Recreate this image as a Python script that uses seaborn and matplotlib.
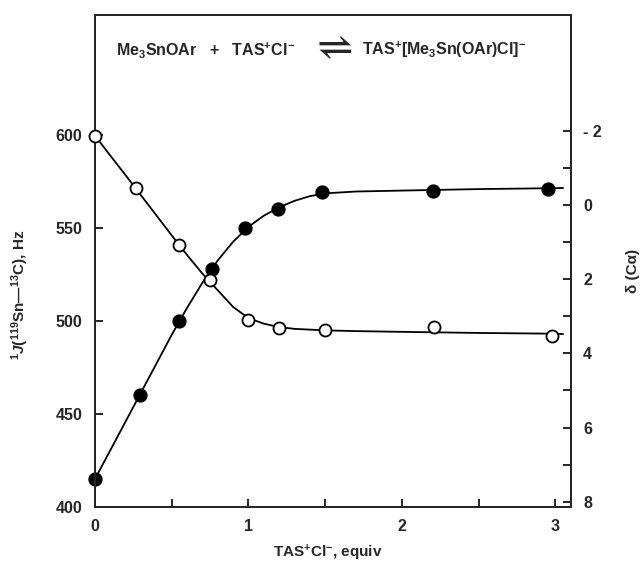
import numpy as np
import pandas as pd
import matplotlib
matplotlib.use("Agg")
import matplotlib.pyplot as plt
import seaborn as sns
from matplotlib.ticker import FixedLocator, FixedFormatter

# filled circles: 1J(119Sn-13C), Hz (left axis)
equiv_J = [0.0, 0.29, 0.55, 0.76, 0.98, 1.19, 1.48, 2.20, 2.95]
J_Hz = [415, 460, 500, 528, 550, 560, 569, 570, 571]

# open circles: delta(C-alpha), ppm (right axis, inverted)
equiv_d = [0.0, 0.27, 0.55, 0.75, 1.00, 1.20, 1.50, 2.21, 2.98]
delta_ppm = [-1.87, -0.47, 1.09, 2.03, 3.09, 3.32, 3.37, 3.29, 3.53]

# fitted curves
curve_x = [0, 0.1, 0.2, 0.3, 0.4, 0.5, 0.6, 0.7, 0.8, 0.9, 1.0, 1.1, 1.2,
           1.3, 1.4, 1.5, 1.7, 2.0, 2.5, 3.0, 3.05]
curve_J = [415, 430.5, 446, 461.5, 477, 492.5, 507, 520.5, 532.5, 542.5,
           550.5, 556.5, 561, 564.5, 567, 568.5, 569.5, 570, 570.8, 571.3, 571.4]
curve_d = [-1.87, -1.33, -0.8, -0.26, 0.28, 0.82, 1.35, 1.85, 2.3, 2.75,
           3.05, 3.2, 3.29, 3.34, 3.36, 3.38, 3.4, 3.42, 3.45, 3.47, 3.48]

x_ticks = [0, 1, 2, 3]
x_minor = [0.5, 1.5, 2.5]
left_ticks = [400, 450, 500, 550, 600]
right_ticks = [-2, 0, 2, 4, 6, 8]
right_labels = ["- 2", "0", "2", "4", "6", "8"]
right_minor = [-1, 1, 3, 5, 7]

sns.set_style("ticks")
plt.rcParams["font.family"] = ["Liberation Sans", "DejaVu Sans"]
plt.rcParams["font.weight"] = "bold"
plt.rcParams["axes.labelweight"] = "bold"
plt.rcParams["mathtext.fontset"] = "custom"
plt.rcParams["mathtext.rm"] = "Liberation Sans:bold"
plt.rcParams["mathtext.it"] = "Liberation Sans:bold:italic"
plt.rcParams["mathtext.bf"] = "Liberation Sans:bold"

fig = plt.figure(figsize=(6.42, 5.67), dpi=100)
ax = fig.add_axes([0.148, 0.106, 0.741, 0.868])
ax2 = ax.twinx()

df_J = pd.DataFrame({"x": equiv_J, "y": J_Hz})
df_d = pd.DataFrame({"x": equiv_d, "y": delta_ppm})
cJ = pd.DataFrame({"x": curve_x, "y": curve_J})
cd = pd.DataFrame({"x": curve_x, "y": curve_d})

sns.lineplot(data=cJ, x="x", y="y", ax=ax, color="black", lw=1.3, sort=False)
sns.scatterplot(data=df_J, x="x", y="y", ax=ax, color="black", s=90,
                edgecolor="black", zorder=5, clip_on=False)
sns.lineplot(data=cd, x="x", y="y", ax=ax2, color="black", lw=1.3, sort=False)
sns.scatterplot(data=df_d, x="x", y="y", ax=ax2, facecolor="white", s=75,
                edgecolor="black", linewidth=1.3, zorder=5, clip_on=False)

ax.set_xlim(0, 3.1)
ax.set_ylim(400, 664.5)
ax2.set_ylim(8.14, -5.13)

ax.xaxis.set_major_locator(FixedLocator(x_ticks))
ax.xaxis.set_minor_locator(FixedLocator(x_minor))
ax.yaxis.set_major_locator(FixedLocator(left_ticks))
ax2.yaxis.set_major_locator(FixedLocator(right_ticks))
ax2.yaxis.set_major_formatter(FixedFormatter(right_labels))
ax2.yaxis.set_minor_locator(FixedLocator(right_minor))

for a in (ax, ax2):
    for s in a.spines.values():
        s.set_linewidth(1.4)
        s.set_visible(True)
    a.tick_params(which="both", direction="in", length=6, width=1.4,
                  labelsize=11.5, pad=9)

ax.set_xlabel(r"TAS$^{+}$Cl$^{-}$, equiv", fontsize=11)
ax.xaxis.set_label_coords(0.49, -0.073)
ax.set_ylabel(r"$^{1}\mathit{J}(^{119}$Sn—$^{13}$C), Hz", fontsize=11)
ax.yaxis.set_label_coords(-0.135, 0.43)
ax2.set_ylabel(r"δ (Cα)", fontsize=11, rotation=90, va="center")
ax2.yaxis.set_label_coords(1.13, 0.48)

# reaction scheme
ax.text(0.42, 0.929, r"Me$_3$SnOAr   +   TAS$^{+}$Cl$^{-}$",
        transform=ax.transAxes, ha="right", va="center", fontsize=11.5)
ax.text(0.496, 0.932, r"$\rightleftharpoons$",
        transform=ax.transAxes, ha="center", va="center", fontsize=27)
ax.text(0.561, 0.929, r"TAS$^{+}$[Me$_3$Sn(OAr)Cl]$^{-}$",
        transform=ax.transAxes, ha="left", va="center", fontsize=11.5)

fig.savefig("out.png", dpi=100)
